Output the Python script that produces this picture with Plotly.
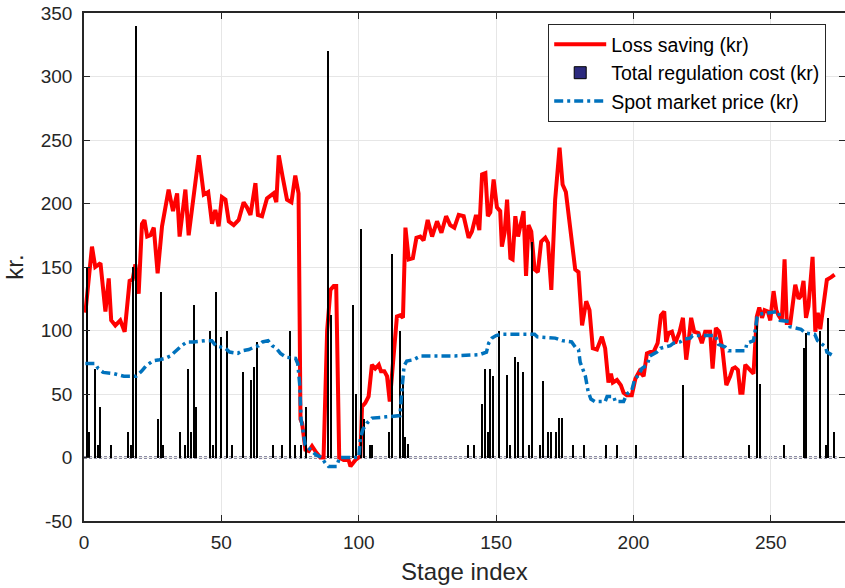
import plotly.graph_objects as go

# ---------------- data ----------------
loss_stage = [0.5, 2.9, 4.1, 6.0, 7.8, 9.0, 9.9, 11.4, 13.2, 14.8, 16.6, 17.7, 18.7, 19.9,
              21.1, 22.0, 23.0, 24.2, 25.4, 26.8, 28.4, 30.8, 32.4, 33.9, 34.8, 36.9, 38.1,
              39.9, 41.8, 43.6, 45.2, 46.6, 47.8, 49.0, 50.2, 51.5, 52.7, 54.5, 56.3, 58.1,
              59.3, 60.6, 62.4, 63.3, 64.8, 66.6, 69.0, 70.0, 70.9, 72.3, 73.9, 75.5, 76.9,
              78.1, 78.8, 79.4, 80.6, 81.8, 83.0, 84.2, 86.0, 87.2, 88.5, 89.7, 90.9, 91.8,
              92.9, 94.5, 96.3, 97.0, 98.8, 100.6, 101.2, 102.4, 103.6, 104.8, 106.0, 107.3,
              108.1, 109.3, 110.3, 111.3, 112.7, 113.9, 115.1, 116.1, 117.0, 118.2, 119.7,
              121.0, 122.4, 123.6, 125.1, 126.7, 128.5, 130.1, 131.8, 133.3, 134.8, 136.4,
              138.2, 140.0, 141.2, 142.7, 143.9, 144.9, 146.1, 147.0, 147.9, 149.1, 150.3,
              151.5, 152.1, 153.1, 154.0, 155.2, 156.0, 157.0, 158.0, 159.2, 160.0, 160.9,
              161.8, 162.8, 164.0, 165.2, 166.4, 167.9, 168.9, 170.1, 171.5, 173.1, 174.2,
              175.4, 177.0, 178.8, 180.0, 181.3, 182.8, 184.0, 185.2, 186.7, 188.5, 189.7,
              190.9, 191.8, 192.5, 194.0, 195.4, 196.4, 197.6, 199.4, 200.7, 202.2, 203.7,
              204.9, 206.1, 207.3, 208.8, 210.0, 211.2, 211.9, 212.8, 214.0, 215.2, 216.8,
              218.0, 219.2, 220.1, 221.0, 222.1, 223.7, 224.9, 226.1, 227.9, 228.8, 230.0,
              231.2, 232.4, 233.8, 235.2, 236.1, 237.0, 238.0, 238.9, 239.7, 240.7, 241.9,
              243.7, 244.9, 245.8, 246.8, 247.7, 248.9, 249.8, 251.0, 252.0, 252.8, 254.0,
              255.0, 255.8, 257.1, 257.9, 258.9, 260.1, 260.9, 261.9, 262.8, 263.7, 265.2,
              266.2, 267.1, 268.0, 269.2, 270.4, 272.0, 273.2]
loss_saving = [114, 166, 150, 153, 115, 141, 108, 104, 108, 99, 139, 140, 152, 129,
               184, 187, 174, 175, 181, 145, 182, 211, 194, 208, 174, 211, 175,
               203, 238, 207, 209, 184, 195, 182, 205, 203, 186, 183, 187, 201,
               197, 191, 216, 191, 190, 204, 208, 201, 238, 221, 203, 201, 222,
               208, 30, 27, 6, 5, 9, 5, 0, 0, 100, 132, 135, 135,
               0, -2, -2, -7, -2, 1, 40, 43, 48, 73, 70, 73,
               68, 68, 64, 44, 80, 111, 112, 110, 181, 156, 157,
               173, 174, 171, 187, 174, 186, 177, 190, 183, 181, 191,
               190, 173, 178, 191, 179, 223, 224, 190, 193, 219, 197,
               194, 166, 177, 203, 157, 156, 190, 174, 187, 194, 143,
               183, 178, 148, 146, 170, 173, 169, 132, 203, 244, 215,
               209, 177, 148, 146, 104, 123, 116, 86, 85, 95, 86,
               59, 66, 59, 61, 57, 51, 49, 49, 62, 68, 64,
               82, 83, 83, 90, 112, 115, 91, 98, 99, 90, 99,
               110, 77, 92, 110, 99, 98, 90, 99, 99, 70, 102,
               99, 85, 57, 64, 70, 71, 69, 51, 51, 73, 70,
               66, 111, 118, 110, 116, 115, 108, 131, 116, 112, 108,
               156, 106, 106, 118, 136, 125, 127, 139, 110, 119, 158,
               99, 114, 101, 123, 140, 142, 144]

spot_stage = [0.5, 4.0, 5.2, 7.0, 11.0, 14.5, 19.0, 21.0, 22.5, 25.0, 27.5, 29.5, 31.5,
              33.5, 35.5, 37.5, 40.0, 44.0, 46.5, 48.0, 51.5, 53.0, 56.0, 57.5, 60.0, 62.0,
              63.6, 65.0, 67.0, 68.5, 70.0, 71.5, 73.5, 77.0, 77.8, 78.5, 79.0, 79.8, 80.5,
              82.5, 84.5, 86.5, 88.0, 89.0, 92.0, 93.0, 100.0, 100.6, 101.5, 103.0, 104.8,
              110.0, 115.0, 115.8, 116.5, 117.5, 120.0, 122.5, 135.0, 144.0, 146.5, 147.3,
              148.5, 150.0, 152.0, 164.0, 165.0, 171.5, 174.0, 177.5, 178.8, 180.0, 180.6,
              181.5, 182.5, 183.5, 184.5, 186.0, 189.7, 190.4, 192.8, 193.4, 196.4, 197.6,
              199.4, 200.5, 202.0, 203.0, 205.0, 206.0, 208.5, 209.8, 213.4, 214.6, 217.0,
              218.2, 220.7, 221.5, 229.8, 231.0, 233.4, 234.6, 240.7, 241.3, 243.7, 244.3,
              245.0, 246.0, 250.4, 252.8, 253.4, 256.5, 257.0, 261.0, 262.5, 266.0, 267.0,
              270.0, 270.4, 272.8]
spot_price = [74, 74, 70, 67, 66, 64, 64, 68, 72, 76, 77, 78, 80,
              84, 88, 91, 91, 92, 92, 88, 86, 83, 82, 84, 85, 87,
              88, 91, 92, 88, 86, 82, 79, 78, 74, 58, 30, 20, 10,
              6, 2, 0, -5, -7, -7, 0, 0, 15, 22, 27, 31,
              32, 33, 55, 72, 76, 77, 80, 80, 81, 83, 90,
              94, 96, 97, 97, 95, 94, 92, 91, 87, 85, 75,
              70, 64, 52, 46, 44, 44, 48, 48, 44, 44, 50,
              53, 62, 65, 70, 73, 80, 83, 86, 88, 90, 91,
              93, 94, 96, 96, 89, 87, 84, 84, 90, 92, 100,
              110, 113, 114, 115, 108, 107, 103, 101, 98, 97, 92,
              87, 83, 80]

reg_stage = [1, 2, 4, 5, 6, 10, 16, 17, 18, 19, 27, 28, 29, 35, 37, 38, 39, 40, 41,
             46, 47, 48, 50, 52, 54, 58, 61, 62, 63, 69, 72, 75, 77, 79, 81, 89, 90,
             98, 99, 101, 102, 104, 105, 111, 112, 115, 116, 117, 118, 140, 142, 145,
             146, 147, 148, 149, 151, 154, 155, 157, 158, 160, 162, 163, 166, 167, 169,
             170, 172, 173, 174, 178, 182, 190, 194, 201, 218, 242, 245, 246, 255, 262,
             263, 268, 270, 271, 273]
reg_cost = [150, 20, 70, 10, 40, 10, 20, 10, 150, 340, 30, 130, 10, 20, 10, 70, 20, 120, 40,
            100, 10, 130, 95, 100, 10, 67, 61, 71, 91, 10, 10, 100, 10, 10, 40, 320, 112,
            120, 50, 180, 30, 10, 10, 20, 160, 100, 60, 16, 11, 10, 10, 42,
            70, 20, 70, 64, 100, 65, 10, 79, 75, 67, 10, 170, 10, 60, 20,
            20, 20, 31, 31, 10, 10, 10, 10, 10, 57, 10, 105, 58, 10, 86,
            98, 100, 10, 110, 20]

series_names = ["Loss saving (kr)", "Total regulation cost (kr)", "Spot market price (kr)"]
x_title = "Stage index"
y_title = "kr."
x_range = [0, 277]
y_range = [-50, 350]
x_ticks = [0, 50, 100, 150, 200, 250]
y_ticks = [-50, 0, 50, 100, 150, 200, 250, 300, 350]

# ---------------- figure ----------------
AX = "#262626"
NAVY = "#2c2a7e"
fig = go.Figure()

fig.add_trace(go.Scatter(
    x=loss_stage, y=loss_saving, mode="lines", name=series_names[0],
    line=dict(color="#ff0000", width=4),
))
# the thin bars render as black edges; a legend-only entry shows the navy face colour
fig.add_trace(go.Bar(
    x=reg_stage, y=reg_cost, name=series_names[1], width=0.5, showlegend=False,
    marker=dict(color="black", line=dict(width=0)),
    xaxis="x2", yaxis="y2",
))
fig.add_trace(go.Bar(
    x=[None], y=[None], name=series_names[1],
    marker=dict(color=NAVY, line=dict(color="black", width=1)),
    xaxis="x2", yaxis="y2",
))
fig.add_trace(go.Scatter(
    x=spot_stage, y=spot_price, mode="lines", name=series_names[2],
    line=dict(color="#0072BD", width=3.5, dash="9px,4px,3px,4px"),
    xaxis="x3", yaxis="y3",
))

# dotted baseline formed by the zero-height bars
fig.add_shape(type="line", xref="x", yref="y",
              x0=0, x1=reg_stage[-1] + 1, y0=0, y1=0,
              line=dict(color="#1a1a4a", width=2, dash="3px,2px"), layer="below")

fig.update_layout(
    width=845, height=588,
    margin=dict(l=84, r=0, t=13, b=67, autoexpand=False),
    plot_bgcolor="white", paper_bgcolor="white",
    font=dict(family="Liberation Sans, Arial, sans-serif", size=19, color=AX),
    barmode="overlay", bargap=0,
    showlegend=True,
    legend=dict(
        x=0.61, y=0.978, xanchor="left", yanchor="top",
        bgcolor="white", bordercolor=AX, borderwidth=1,
        font=dict(size=19.5, color="black"), itemwidth=52, tracegroupgap=0,
    ),
    xaxis=dict(
        range=x_range, tickvals=x_ticks, ticktext=[str(v) for v in x_ticks],
        showgrid=True, gridcolor="#e6e6e6", gridwidth=1,
        showline=True, linecolor=AX, linewidth=1.5, mirror="ticks",
        ticks="inside", ticklen=6, tickcolor=AX, zeroline=False, automargin=False,
        ticklabelstandoff=3, ticklabeloverflow="allow",
        title=dict(text=x_title, font=dict(size=24), standoff=12),
    ),
    yaxis=dict(
        range=y_range, tickvals=y_ticks, ticktext=[str(v) for v in y_ticks],
        showgrid=True, gridcolor="#e6e6e6", gridwidth=1,
        showline=True, linecolor=AX, linewidth=1.5, mirror="ticks",
        ticks="inside", ticklen=6, tickcolor=AX, zeroline=False, automargin=False,
        ticklabelstandoff=6, ticklabeloverflow="allow",
        title=dict(text=y_title, font=dict(size=24), standoff=10),
    ),
    xaxis2=dict(overlaying="x", range=x_range, visible=False, fixedrange=True),
    yaxis2=dict(overlaying="y", range=y_range, visible=False, fixedrange=True),
    xaxis3=dict(overlaying="x", range=x_range, visible=False, fixedrange=True),
    yaxis3=dict(overlaying="y", range=y_range, visible=False, fixedrange=True),
)

# remove the browser's default 8px body margin so the figure fills the window exactly
fig.write_html("out.html", config={"displayModeBar": False},
               post_script="document.body.style.margin = '0px';")
